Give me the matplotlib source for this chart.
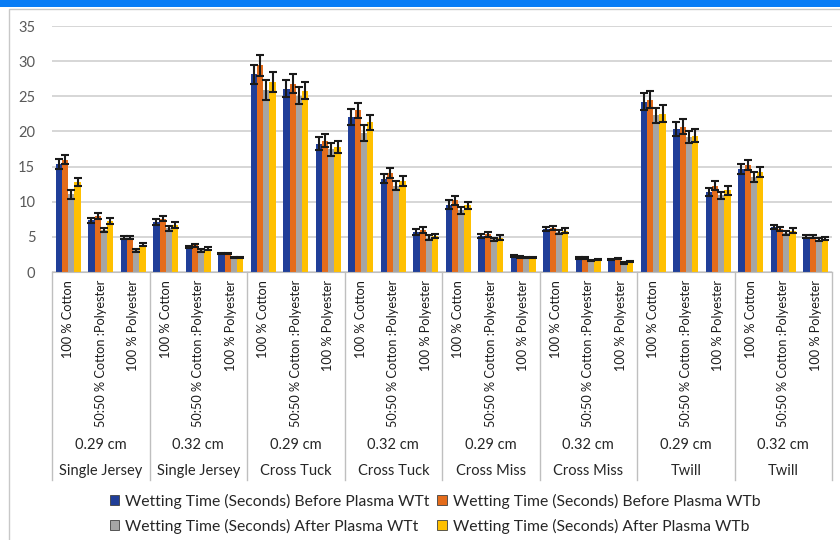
#!/usr/bin/env python
# coding: utf-8

"""Wetting time before / after plasma treatment, grouped bars with error bars"""

import matplotlib.pyplot as pl
import numpy as np
from matplotlib.patches import Patch, Rectangle

pl.switch_backend("agg")
pl.rcParams["font.family"] = ["Lato", "DejaVu Sans"]

compositions = ["100 % Cotton", "50:50 % Cotton :Polyester", "100 % Polyester"]
sizes = ["0.29 cm", "0.32 cm", "0.29 cm", "0.32 cm", "0.29 cm", "0.32 cm", "0.29 cm", "0.32 cm"]
structures = ["Single Jersey", "Single Jersey", "Cross Tuck", "Cross Tuck",
              "Cross Miss", "Cross Miss", "Twill", "Twill"]

series_labels = [
    "Wetting Time (Seconds) Before Plasma WTt",
    "Wetting Time (Seconds) Before Plasma WTb",
    "Wetting Time (Seconds) After Plasma WTt",
    "Wetting Time (Seconds) After Plasma WTb",
]
before_wtt = [15.4, 7.35, 4.9, 7.1, 3.55, 2.6, 28.1, 26.1, 18.25, 22.05, 13.3, 5.7,
              9.6, 5.1, 2.25, 6.15, 2.0, 1.75, 24.2, 20.4, 11.4, 14.7, 6.4, 5.0]
before_wtb = [16.0, 8.0, 4.9, 7.6, 3.8, 2.6, 29.4, 26.8, 18.7, 23.0, 14.1, 6.0,
              10.2, 5.35, 2.15, 6.25, 2.0, 1.9, 24.5, 20.7, 12.3, 15.2, 6.15, 5.0]
after_wtt = [11.05, 6.0, 3.1, 6.2, 3.1, 2.05, 25.9, 25.1, 17.45, 19.8, 12.3, 4.9,
             8.8, 4.65, 2.05, 5.7, 1.65, 1.3, 22.3, 19.2, 10.9, 13.5, 5.6, 4.6]
after_wtb = [12.8, 7.25, 3.9, 6.7, 3.3, 2.1, 27.0, 25.8, 17.8, 21.3, 13.0, 5.1,
             9.5, 4.9, 2.1, 5.9, 1.75, 1.5, 22.5, 19.4, 11.6, 14.2, 5.9, 4.75]

err_before_wtt = [0.7, 0.4, 0.2, 0.4, 0.2, 0.1, 1.4, 1.2, 0.9, 1.1, 0.7, 0.4,
                  0.6, 0.3, 0.1, 0.3, 0.1, 0.1, 1.2, 1.0, 0.6, 0.7, 0.3, 0.2]
err_before_wtb = [0.7, 0.4, 0.2, 0.4, 0.2, 0.1, 1.5, 1.3, 0.9, 1.1, 0.7, 0.4,
                  0.6, 0.3, 0.1, 0.3, 0.1, 0.1, 1.2, 1.0, 0.6, 0.7, 0.3, 0.2]
err_after_wtt = [0.6, 0.3, 0.2, 0.4, 0.2, 0.1, 1.4, 1.2, 0.9, 1.1, 0.6, 0.3,
                 0.5, 0.2, 0.1, 0.3, 0.1, 0.1, 1.1, 0.9, 0.5, 0.7, 0.3, 0.2]
err_after_wtb = [0.6, 0.4, 0.2, 0.4, 0.2, 0.1, 1.4, 1.2, 0.9, 1.1, 0.7, 0.3,
                 0.5, 0.3, 0.1, 0.3, 0.1, 0.1, 1.2, 0.9, 0.6, 0.7, 0.3, 0.2]

colors = ["#203E98", "#E46C1B", "#A5A5A5", "#FFC000"]
values = [before_wtt, before_wtb, after_wtt, after_wtb]
errors = [err_before_wtt, err_before_wtb, err_after_wtt, err_after_wtb]

n_cat = len(structures) * len(compositions)
x = np.arange(n_cat)
bar_w = 0.19

fig = pl.figure(figsize=(8.4, 5.4), dpi=100)
ax = fig.add_axes([52 / 840, 1 - 272 / 540, 780 / 840, 246 / 540])

# chart frame and blue strip along the top
fig.patches.append(Rectangle((9 / 840, -0.1), 1.2, 1 - 9 / 540 + 0.1, transform=fig.transFigure,
                             fill=False, edgecolor="#C8C8C8", lw=1.0, zorder=0))
fig.patches.append(Rectangle((0, 1 - 7 / 540), 1, 7 / 540, transform=fig.transFigure,
                             facecolor="#0A7DF5", edgecolor="none", zorder=1))

for k in range(4):
    offs = (k - 1.5) * bar_w
    ax.bar(x + offs, values[k], bar_w, color=colors[k], zorder=2)
    ax.errorbar(x + offs, values[k], yerr=errors[k], fmt="none", ecolor="#1A1A1A",
                elinewidth=1.5, capsize=2.6, capthick=1.5, zorder=3)

ax.set_xlim(-0.5, n_cat - 0.5)
ax.set_ylim(0, 35)
ax.set_yticks(range(0, 36, 5))
ax.tick_params(axis="y", length=0, pad=12, labelsize=10.5, labelcolor="#595959")
ax.set_xticks([])
ax.yaxis.grid(True, color="#D0D0D0", lw=1.2, zorder=0)
ax.set_axisbelow(True)
for s in ("top", "right", "left"):
    ax.spines[s].set_visible(False)
ax.spines["bottom"].set_color("#BFBFBF")

# multi-level category axis
tr = ax.get_xaxis_transform()
for g in range(len(structures) + 1):
    xs = g * 3 - 0.5
    ax.plot([xs, xs], [0, -0.846], transform=tr, color="#BFBFBF", lw=1.0, clip_on=False)
for i in range(n_cat):
    ax.text(i, -0.032, compositions[i % 3], rotation=90, ha="center", va="top",
            transform=tr, fontsize=9.2, color="#1A1A1A")
for g in range(len(structures)):
    xc = g * 3 + 1
    ax.text(xc, -0.703, sizes[g], ha="center", va="center", transform=tr,
            fontsize=10.5, color="#262626")
    ax.text(xc, -0.809, structures[g], ha="center", va="center", transform=tr,
            fontsize=10.5, color="#262626")

handles = [Patch(facecolor=colors[k], edgecolor="#404040", lw=0.6) for k in (0, 2, 1, 3)]
labels = [series_labels[k] for k in (0, 2, 1, 3)]
fig.legend(handles, labels, ncol=2, loc="upper center", bbox_to_anchor=(0.518, 0.112),
           frameon=False, fontsize=11.3, handlelength=0.6, handleheight=0.6,
           handletextpad=0.4, columnspacing=0.5, labelspacing=0.62,
           labelcolor="#262626")

pl.savefig("out.png", dpi=100)
pl.close()
